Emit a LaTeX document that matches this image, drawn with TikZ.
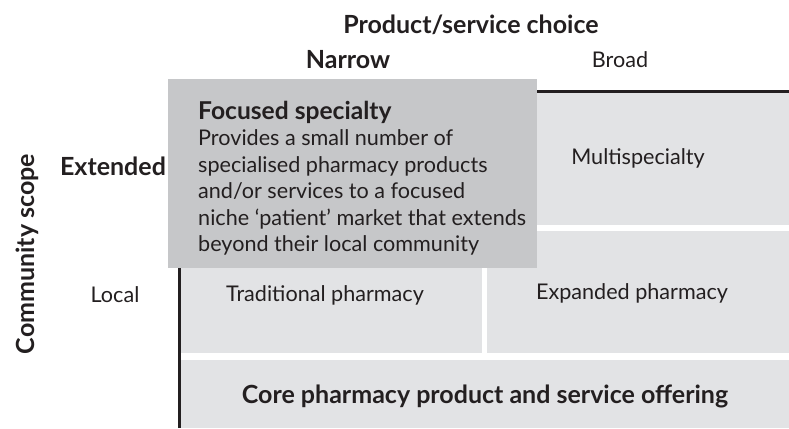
\documentclass[tikz,border=0pt]{standalone}
\usepackage{fontspec}
\setmainfont{Lato}
\usepackage{xcolor}
\definecolor{celda}{HTML}{E2E3E5}
\definecolor{caja}{HTML}{C6C7C9}
\definecolor{tinta}{HTML}{231F20}

\begin{document}
\begin{tikzpicture}[x=1pt,y=-1pt,
    celda/.style={fill=celda,inner sep=0pt,anchor=north west},
    letra/.style={text=tinta,inner sep=0pt,font=\fontsize{21.6}{26.5}\selectfont},
    titulo/.style={text=tinta,inner sep=0pt,font=\fontsize{25}{26.5}\selectfont\bfseries}]
\useasboundingbox (0,0) rectangle (789,428);
\fill[white] (0,0) rectangle (789,428);
% celdas de la matriz
\node[celda,minimum width=302pt,minimum height=133pt] (multi) at (487,92) {};
\node[celda,minimum width=301pt,minimum height=122pt] (trad) at (181,231) {};
\node[celda,minimum width=302pt,minimum height=122pt] (expa) at (487,231) {};
\node[celda,minimum width=608pt,minimum height=68pt] (base) at (181,360) {};
\draw[line width=3pt,tinta] (179.5,428) |- (789,91); % ejes
% rotulos de los ejes
\node[titulo] (eleccion) at (471,25) {Product/service choice};
\node[titulo] (estrecho) at (348,60) {Narrow};
\node[letra] (amplio) at (620,60) {Broad};
\node[titulo,rotate=90] (alcance) at (27,254) {Community scope};
\node[titulo] (extendido) at (113,166) {Extended};
\node[letra] (localidad) at (115,295) {Local};
% textos de las celdas
\node[letra] (tmulti) at (638,158) {Multispecialty};
\node[letra] (ttrad) at (325,295) {Traditional pharmacy};
\node[letra] (texpa) at (632,293) {Expanded pharmacy};
\node[titulo] (tbase) at (485,396) {Core pharmacy product and service offering};
% caja superpuesta
\node[fill=caja,inner sep=0pt,anchor=north west,minimum width=369pt,minimum height=189pt] (foco) at (168,79) {};
\node[letra,anchor=north west,align=left] (tfoco) at (198,101) {{\fontsize{24.6}{26.5}\selectfont\bfseries Focused specialty}\\
  Provides a small number of\\
  specialised pharmacy products\\
  and/or services to a focused\\
  niche `patient' market that extends\\
  beyond their local community};
\end{tikzpicture}
\end{document}
